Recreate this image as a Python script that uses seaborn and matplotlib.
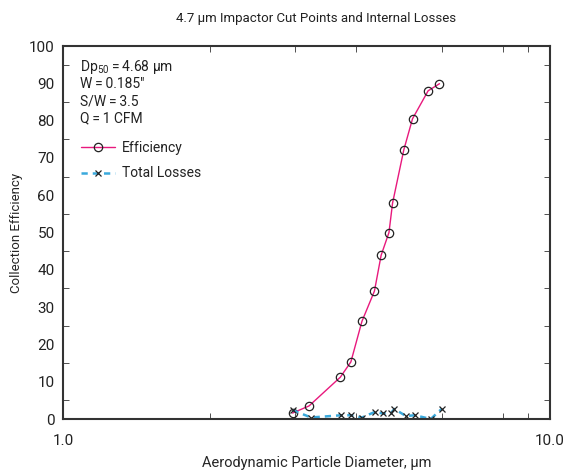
import matplotlib
matplotlib.use("Agg")
import matplotlib.pyplot as plt
import matplotlib.ticker as mticker
import seaborn as sns
import pandas as pd

# values
eff_diam = [2.96, 3.20, 3.71, 3.90, 4.11, 4.36, 4.50, 4.67, 4.75, 5.01, 5.22, 5.62, 5.93]
eff_vals = [1.6, 3.5, 11.2, 15.3, 26.2, 34.3, 43.9, 50.0, 57.9, 72.2, 80.5, 88.0, 89.9]
loss_diam = [2.96, 3.23, 3.72, 3.90, 4.11, 4.37, 4.53, 4.71, 4.79, 5.06, 5.28, 5.69, 5.99]
loss_vals = [2.4, 0.4, 1.0, 1.0, 0.4, 1.9, 1.5, 1.5, 2.7, 0.8, 1.0, 0.0, 2.7]
info_lines = ["Dp$_{50}$\u2009=\u20094.68 µm", "W\u2009=\u20090.185\"", "S/W\u2009=\u20093.5", "Q\u2009=\u20091 CFM"]

eff = pd.DataFrame({"d": eff_diam, "e": eff_vals})
loss = pd.DataFrame({"d": loss_diam, "e": loss_vals})

sns.set_style("ticks")
plt.rcParams["font.family"] = ["Roboto", "DejaVu Sans"]
plt.rcParams["mathtext.default"] = "regular"
plt.rcParams["font.size"] = 9.5
plt.rcParams["text.color"] = "#222222"

fig = plt.figure(figsize=(5.65, 4.71), dpi=100)
ax = fig.add_axes([0.1115, 0.1104, 0.862, 0.7919])

sns.lineplot(data=eff, x="d", y="e", ax=ax, color="#e8197d", lw=1.0,
             marker="o", markersize=6, markerfacecolor="none",
             markeredgecolor="#222222", markeredgewidth=0.9, label="Efficiency")
sns.lineplot(data=loss, x="d", y="e", ax=ax, color="#3aa9dc", lw=1.8,
             linestyle=(0, (2.5, 2)), marker="x", markersize=4.5,
             markeredgecolor="#222222", markeredgewidth=0.9, label="Total Losses")

ax.set_xscale("log")
ax.set_xlim(1, 10)
ax.set_ylim(0, 100)
ax.xaxis.set_major_locator(mticker.FixedLocator([1, 10]))
ax.xaxis.set_major_formatter(mticker.FixedFormatter(["1.0", "10.0"]))
ax.xaxis.set_minor_locator(mticker.FixedLocator([2, 3, 4, 6, 8, 9]))
ax.xaxis.set_minor_formatter(mticker.NullFormatter())
ax.yaxis.set_major_locator(mticker.MultipleLocator(10))
ax.yaxis.set_minor_locator(mticker.MultipleLocator(5))

ax.tick_params(which="both", direction="in", top=True, right=True,
               colors="#333333", labelcolor="#222222", labelsize=11)
ax.tick_params(which="major", length=0, pad=6)
ax.tick_params(which="minor", length=4)
ax.tick_params(axis="x", which="major", pad=11)
for s in ax.spines.values():
    s.set_linewidth(1.5)
    s.set_color("#333333")

ax.set_xlabel("Aerodynamic Particle Diameter, µm", fontsize=10.5)
ax.xaxis.set_label_coords(0.52, -0.1)
ax.set_ylabel("Collection Efficiency", fontsize=9.5)
ax.yaxis.set_label_coords(-0.083, 0.5)
ax.set_title("4.7 µm Impactor Cut Points and Internal Losses", fontsize=9.5, pad=17, x=0.52)

for i, t in enumerate(info_lines):
    ax.text(0.035, 0.944 - i * 0.046, t, transform=ax.transAxes, fontsize=10,
            va="center", ha="left")

ax.legend(loc="upper left", bbox_to_anchor=(0.012, 0.78), frameon=False,
          fontsize=10, handlelength=2.4, handletextpad=0.5, labelspacing=0.85)

fig.savefig("out.png", dpi=100)
